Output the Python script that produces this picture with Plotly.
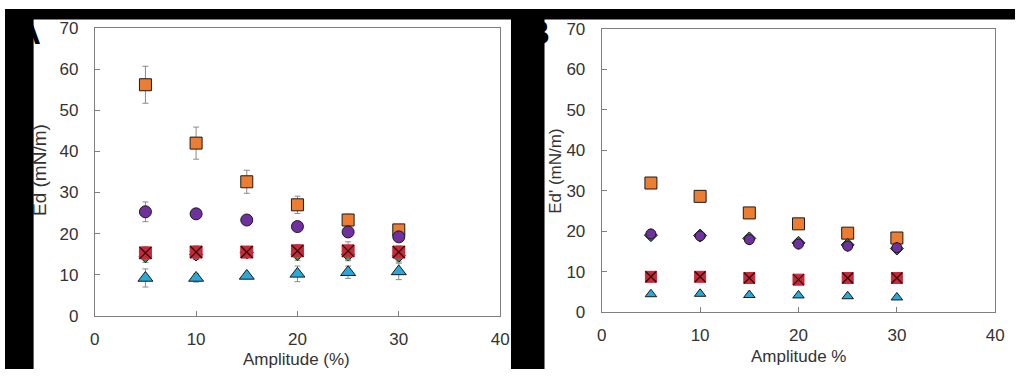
import plotly.graph_objects as go

# ---------------- data ----------------
amplitude = [5, 10, 15, 20, 25, 30]

# Panel A : Ed (mN/m)
a_square = [56.2, 42.0, 32.6, 27.0, 23.3, 20.9]
a_square_err = [4.5, 3.9, 2.8, 2.1, 1.4, 0.8]
a_circle = [25.3, 24.8, 23.3, 21.7, 20.4, 19.2]
a_circle_err = [2.4, 0.5, 0.5, 0.5, 0.5, 0.8]
a_diamond = [14.5, 14.9, 15.4, 15.0, 14.9, 14.6]
a_diamond_err = [1.5, 1.2, 0.8, 1.5, 1.5, 1.5]
a_cross = [15.3, 15.5, 15.5, 15.8, 15.8, 15.5]
a_cross_err = [1.5, 1.5, 0.5, 1.5, 2.2, 1.5]
a_triangle = [9.2, 9.2, 9.7, 10.2, 10.6, 10.8]
a_triangle_err = [2.2, 1.0, 0.5, 1.9, 1.5, 2.0]

# Panel B : Ed' (mN/m)
b_square = [31.9, 28.6, 24.5, 21.8, 19.5, 18.3]
b_circle = [19.3, 18.8, 17.9, 16.8, 16.3, 15.9]
b_diamond = [19.0, 18.9, 18.2, 17.1, 16.6, 15.7]
b_cross = [8.7, 8.7, 8.4, 8.0, 8.4, 8.4]
b_triangle = [4.4, 4.5, 4.2, 4.1, 3.9, 3.6]

x_ticks = [0, 10, 20, 30, 40]
y_ticks = [0, 10, 20, 30, 40, 50, 60, 70]

# ---------------- styles ----------------
ORANGE = "#ED7D31"
PURPLE = "#7030A0"
GREEN = "#2E8B3E"
RED = "#C8283A"
BLUE = "#2AA8DC"
EDGE = "#1a1a1a"
ERR = "#8a8a8a"
FONT = "Liberation Sans, Arial, sans-serif"
TXT = "#333333"
AX = "#7f7f7f"

W, H = 1024, 379


def px_x(p):
    return p / W


def px_y(p):
    return 1 - p / H


fig = go.Figure()


def err(arr):
    if arr is None:
        return None
    return dict(type="data", array=arr, color=ERR, thickness=1, width=3)


def add(xa, ya, y, symbol, color, size, e=None, line_color=EDGE):
    fig.add_trace(go.Scatter(
        x=amplitude, y=y, mode="markers", xaxis=xa, yaxis=ya,
        marker=dict(symbol=symbol, color=color, size=size,
                    line=dict(color=line_color, width=1)),
        error_y=err(e), showlegend=False, hoverinfo="x+y"))


def add_cross(xa, ya, y, size, e=None):
    add(xa, ya, y, "square", RED, size, e, line_color=RED)
    fig.add_trace(go.Scatter(
        x=amplitude, y=y, mode="markers", xaxis=xa, yaxis=ya,
        marker=dict(symbol="x-thin", size=size,
                    line=dict(color="#2a0a0a", width=1.3)),
        showlegend=False, hoverinfo="skip"))


# Panel A
add("x", "y", a_square, "square", ORANGE, 12, a_square_err)
add("x", "y", a_diamond, "diamond", GREEN, 10, a_diamond_err)
add("x", "y", a_circle, "circle", PURPLE, 12, a_circle_err)
add_cross("x", "y", a_cross, 12, a_cross_err)
add("x", "y", a_triangle, "triangle-up", BLUE, 13, a_triangle_err)

# Panel B
add("x2", "y2", b_square, "square", ORANGE, 12)
add("x2", "y2", b_diamond, "diamond", GREEN, 10)
add("x2", "y2", b_circle, "circle", PURPLE, 10)
add_cross("x2", "y2", b_cross, 11)
add("x2", "y2", b_triangle, "triangle-up", BLUE, 10)

axis_common = dict(
    showline=True, mirror=True, linecolor=AX, linewidth=1,
    ticks="inside", ticklen=5, tickcolor=AX, tickwidth=1,
    showgrid=False, zeroline=False,
    tickfont=dict(family=FONT, size=17, color=TXT),
)

fig.update_layout(
    width=W, height=H, autosize=False,
    margin=dict(l=0, r=0, t=0, b=0),
    paper_bgcolor="white", plot_bgcolor="white",
    xaxis=dict(domain=[px_x(91), px_x(502)], range=[0, 40], tickvals=x_ticks,
               anchor="y", ticklabelstandoff=8, **axis_common),
    yaxis=dict(domain=[px_y(323), px_y(20)], range=[0, 70], tickvals=y_ticks,
               anchor="x", ticklabelstandoff=12, **axis_common),
    xaxis2=dict(domain=[px_x(605), px_x(1004)], range=[0, 40], tickvals=x_ticks,
                anchor="y2", ticklabelstandoff=8, **axis_common),
    yaxis2=dict(domain=[px_y(319), px_y(21)], range=[0, 70], tickvals=y_ticks,
                anchor="x2", ticklabelstandoff=12, **axis_common),
)

# black strips of the composite image
strips = [(0, 0, W, 11), (0, 0, 29, H), (513, 0, 547, H)]
for x0, y0, x1, y1 in strips:
    fig.add_shape(type="rect", xref="paper", yref="paper",
                  x0=px_x(x0), x1=px_x(x1), y0=px_y(y1), y1=px_y(y0),
                  fillcolor="black", line=dict(width=0), layer="below")

annos = [
    dict(text="Amplitude (%)", x=px_x(296), y=px_y(369), size=17, angle=0),
    dict(text="Amplitude %", x=px_x(804), y=px_y(366), size=17, angle=0),
    dict(text="Ed (mN/m)", x=px_x(35), y=px_y(170), size=19, angle=-90),
    dict(text="Ed' (mN/m)", x=px_x(558), y=px_y(171), size=17, angle=-90),
]
for a in annos:
    fig.add_annotation(text=a["text"], x=a["x"], y=a["y"], xref="paper", yref="paper",
                       showarrow=False, textangle=a["angle"],
                       xanchor="center", yanchor="middle",
                       font=dict(family=FONT, size=a["size"], color=TXT))

for t, xc in (("A", 24), ("B", 540)):
    fig.add_annotation(text="<b>%s</b>" % t, x=px_x(xc), y=px_y(25), xref="paper", yref="paper",
                       showarrow=False, xanchor="center", yanchor="middle",
                       font=dict(family=FONT, size=33, color="black"))

fig.write_html(
    "out.html",
    config={"displayModeBar": False},
    post_script="document.body.style.margin='0';document.body.style.padding='0';"
                "document.body.style.overflow='hidden';",
)
